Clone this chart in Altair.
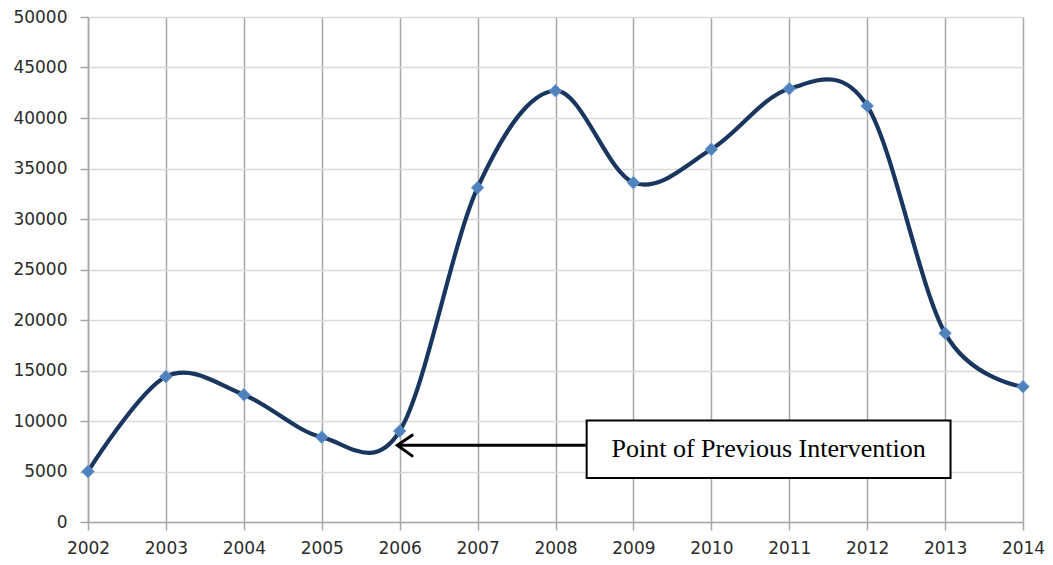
import altair as alt
import pandas as pd

years = [2002, 2003, 2004, 2005, 2006, 2007, 2008, 2009, 2010, 2011, 2012, 2013, 2014]
values = [5000, 14400, 12600, 8400, 9000, 33100, 42700, 33600, 36900, 42900, 41200, 18700, 13400]

y_ticks = [0, 5000, 10000, 15000, 20000, 25000, 30000, 35000, 40000, 45000, 50000]

# annotation (data coordinates)
note_text = ["Point of Previous Intervention"]
box_x = [2008.40]
box_x2 = [2013.07]
box_y = [4350]
box_y2 = [10050]
arrow_x_tail = [2008.40]
arrow_x_tip = [2005.97]
arrow_y = [7600]
head_x = [2006.16, 2005.97, 2006.16]
head_y = [8600, 7600, 6550]

df = pd.DataFrame({"year": years, "value": values})
box_df = pd.DataFrame({"x": box_x, "x2": box_x2, "y": box_y, "y2": box_y2,
                       "t": note_text,
                       "tx": [(box_x[0] + box_x2[0]) / 2], "ty": [(box_y[0] + box_y2[0]) / 2]})
arrow_df = pd.DataFrame({"x": arrow_x_tail, "x2": arrow_x_tip, "y": arrow_y})
head_df = pd.DataFrame({"x": head_x, "y": head_y, "o": [0, 1, 2]})

xscale = alt.Scale(domain=[2002, 2014], nice=False, zero=False)
yscale = alt.Scale(domain=[0, 50000], nice=False)

xaxis = alt.Axis(values=years, format="d", title=None, grid=True, gridColor="#a6a6a6",
                 gridWidth=1.5, domainColor="#a6a6a6", domainWidth=1.5, tickColor="#a6a6a6",
                 tickSize=8, tickWidth=1.5, labelFont="DejaVu Sans", labelFontSize=17,
                 labelColor="#2b2b2b", labelPadding=10, labelFlush=False)
yaxis = alt.Axis(values=y_ticks, format="d", title=None, grid=True, gridColor="#d9d9d9",
                 gridWidth=1.5, domainColor="#a6a6a6", domainWidth=1.5, tickColor="#a6a6a6",
                 tickSize=8, tickWidth=1.5, labelFont="DejaVu Sans", labelFontSize=17,
                 labelColor="#2b2b2b", labelPadding=13, labelFlush=False)

base = alt.Chart(df)

line = base.mark_line(interpolate="cardinal", color="#19365f", strokeWidth=4.2).encode(
    x=alt.X("year:Q", scale=xscale, axis=xaxis),
    y=alt.Y("value:Q", scale=yscale, axis=yaxis),
)

points = base.mark_point(shape="diamond", filled=True, size=160, color="#4f81bd",
                         stroke="#6b9bd6", strokeWidth=0.8, opacity=1).encode(
    x="year:Q", y="value:Q"
)

box = alt.Chart(box_df).mark_rect(fill="white", stroke="black", strokeWidth=2).encode(
    x="x:Q", x2="x2:Q", y="y:Q", y2="y2:Q"
)
txt = alt.Chart(box_df).mark_text(font="Liberation Serif", fontSize=26, color="black",
                                   align="center", baseline="middle").encode(
    x="tx:Q", y="ty:Q", text="t:N"
)
arrow = alt.Chart(arrow_df).mark_rule(color="black", strokeWidth=3).encode(
    x="x:Q", x2="x2:Q", y="y:Q"
)
head = alt.Chart(head_df).mark_line(color="black", strokeWidth=3, strokeCap="round",
                                    strokeJoin="miter").encode(
    x="x:Q", y="y:Q", order="o:Q"
)

chart = alt.layer(line, points, arrow, head, box, txt).properties(
    width=935, height=505,
    autosize=alt.AutoSizeParams(type="none"),
    padding={"left": 80, "top": 9, "right": 22, "bottom": 35},
).configure_view(stroke=None).configure(background="white")

chart.save("out.html", embed_options={"renderer": "svg", "actions": False})
